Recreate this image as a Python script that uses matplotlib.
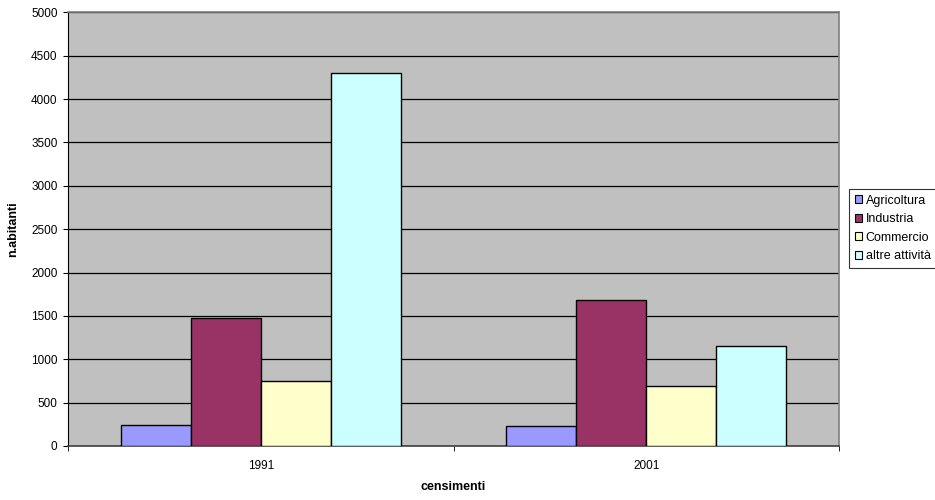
import matplotlib
matplotlib.use("Agg")
import matplotlib.pyplot as plt
import numpy as np

plt.rcParams['font.family'] = ['Liberation Sans', 'DejaVu Sans']

categories = ["1991", "2001"]
series_names = ["Agricoltura", "Industria", "Commercio", "altre attività"]
agricoltura = [240, 225]
industria = [1480, 1680]
commercio = [750, 690]
altre_attivita = [4300, 1150]
series_values = [agricoltura, industria, commercio, altre_attivita]
series_colors = ["#9999FF", "#993366", "#FFFFCC", "#CCFFFF"]
y_ticks = list(range(0, 5001, 500))

FS = 8.5

fig = plt.figure(figsize=(9.35, 5.0), dpi=100)
ax = fig.add_axes([68 / 935, 54 / 500, (839 - 68) / 935, (446 - 12.3) / 500])
ax.set_facecolor("#C0C0C0")

x = np.arange(len(categories))
n = len(series_values)
width = 1.0 / (n + 1.5)
for i, (name, vals, col) in enumerate(zip(series_names, series_values, series_colors)):
    ax.bar(x + (i - (n - 1) / 2) * width, vals, width, color=col,
           edgecolor="black", linewidth=1.0, label=name, zorder=3)

ax.set_xlim(-0.5, len(categories) - 0.5)
ax.set_ylim(0, 5000)
ax.set_yticks(y_ticks)
ax.set_yticklabels([str(t) for t in y_ticks], fontsize=FS)
ax.yaxis.grid(True, color="black", linewidth=0.9, zorder=1)
ax.set_axisbelow(True)

# category labels at centres, tick marks at category boundaries
ax.set_xticks(x)
ax.set_xticklabels(categories, fontsize=FS)
ax.tick_params(axis="x", which="major", length=0, pad=10)
ax.set_xticks(np.arange(-0.5, len(categories)), minor=True)
ax.tick_params(axis="x", which="minor", length=3.5, direction="out", color="black")
ax.tick_params(axis="y", length=3.5, direction="out", pad=4)

for side in ("top", "right"):
    ax.spines[side].set_color("#808080")
    ax.spines[side].set_linewidth(1.2)
ax.spines["left"].set_color("black")
ax.spines["bottom"].set_color("#404040")
ax.spines["bottom"].set_linewidth(1.2)

ax.set_ylabel("n.abitanti", fontsize=FS + 0.5, fontweight="bold")
ax.yaxis.set_label_coords(-(68 - 13.5) / 771, 0.5)
ax.set_xlabel("censimenti", fontsize=FS + 0.5, fontweight="bold")
ax.xaxis.set_label_coords(0.5, -(487 - 446) / 433.7)
ax.xaxis.label.set_va("center")
ax.yaxis.label.set_va("center")

leg = fig.legend(loc="upper left", bbox_to_anchor=(849 / 935, 1 - 189 / 500),
                 fontsize=9, frameon=True, fancybox=False, shadow=False,
                 handlelength=0.6, handleheight=0.6, handletextpad=0.3,
                 labelspacing=0.52, borderpad=0.45, borderaxespad=0)
leg.get_frame().set_edgecolor("black")
leg.get_frame().set_linewidth(0.8)
for h in leg.legend_handles:
    h.set_linewidth(0.8)

fig.savefig("out.png", dpi=100)
